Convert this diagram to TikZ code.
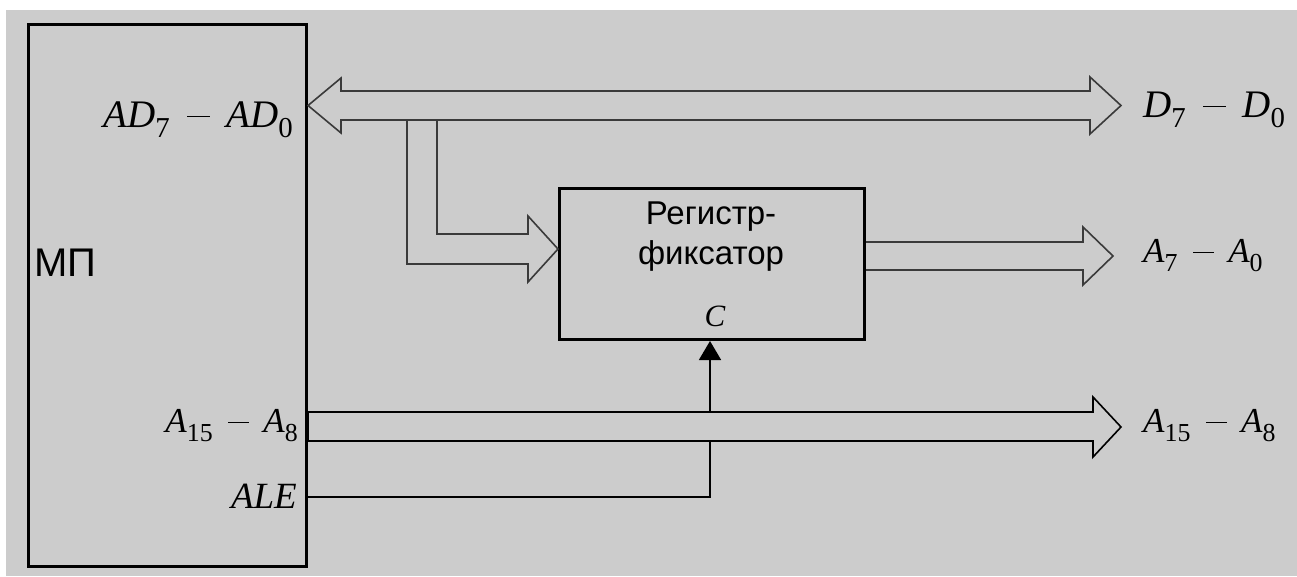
\documentclass[tikz,border=0pt]{standalone}
\usepackage{fontspec}
\usepackage{graphicx}
\setmainfont{Liberation Serif}
\newfontfamily\sansfnt{Liberation Sans}
\usetikzlibrary{arrows.meta}
\definecolor{bg}{HTML}{CCCCCC}
\definecolor{busline}{HTML}{3A3A3A}
\newcommand\sbx[1]{\raisebox{-0.27em}{\scalebox{0.74}{#1}}}
\newcommand\mns{\hspace{0.45em}\rule[0.25em]{0.58em}{0.04em}\hspace{0.42em}}
\tikzset{
  blockbox/.style={draw=black, line width=3pt, fill=bg, inner sep=0pt},
  bus/.style={draw=busline, line width=1.6pt, fill=bg, line join=miter},
  sig/.style={draw=black, line width=1.6pt},
  lblbig/.style={font=\fontsize{39}{42}\selectfont, inner sep=0pt},
  lblmid/.style={font=\fontsize{35}{38}\selectfont, inner sep=0pt},
  sanslbl/.style={font=\sansfnt\fontsize{33}{36}\selectfont, inner sep=0pt},
}
\begin{document}
\begin{tikzpicture}[x=1pt, y=-1pt]
\useasboundingbox (0,0) rectangle (1297,576);
\fill[white] (0,0) rectangle (1297,576);
\fill[bg] (6,10) rectangle (1297,576);

% microprocessor block
\node[blockbox, minimum width=278pt, minimum height=542pt, anchor=north west] (mp) at (27,23) {};
\node[font=\sansfnt\fontsize{40}{44}\selectfont, inner sep=0pt, anchor=west] (mplbl) at (34,263) {МП};

% register block
\node[blockbox, minimum width=305pt, minimum height=151pt, anchor=north west] (reg) at (558,187) {};
\node[sanslbl, anchor=base] (regt1) at (711,224) {Регистр-};
\node[sanslbl, anchor=base] (regt2) at (711,264) {фиксатор};
\node[font=\itshape\fontsize{31}{33}\selectfont, inner sep=0pt, anchor=base] (clk) at (715,326) {C};

% ALE line to C input (passes behind the A15-A8 bus)
\coordinate (aleS) at (mp.east |- 0,497);
\coordinate (aleC) at (710,497);
\draw[sig, -{Triangle[length=19pt, width=22pt]}] (aleS) -- (aleC) -- (aleC |- reg.south);

% top bidirectional bus AD7-AD0 / D7-D0
\draw[bus] (308,105.5) -- (341,78) -- (341,91) -- (1090,91) -- (1090,77) -- (1121,105.5)
  -- (1090,134) -- (1090,120) -- (437,120) -- (407,120) -- (341,120) -- (341,133) -- cycle;
% branch to register
\draw[bus] (407,121) -- (407,264) -- (528,264) -- (528,282) -- (reg.west |- 0,249) -- (528,216)
  -- (528,234) -- (437,234) -- (437,121);

% register output bus A7-A0
\draw[bus] (reg.east |- 0,242) -- (1083,242) -- (1083,227) -- (1113,256) -- (1083,285) -- (1083,270) -- (reg.east |- 0,270);

% A15-A8 bus
\draw[bus, draw=black] (mp.east |- 0,412) -- (1093,412) -- (1093,397) -- (1121,427) -- (1093,457) -- (1093,441) -- (mp.east |- 0,441) -- cycle;

% labels
\node[lblbig, anchor=base east] (lad) at (293,127) {\itshape AD\sbx{\upshape 7}\mns AD\sbx{\upshape 0}};
\node[lblbig, anchor=base west] (ld) at (1143,117) {\itshape D\sbx{\upshape 7}\mns D\sbx{\upshape 0}};
\node[lblmid, anchor=base west] (la70) at (1143,262) {\itshape A\sbx{\upshape 7}\mns A\sbx{\upshape 0}};
\node[lblmid, anchor=base west] (la158r) at (1143,432) {\itshape A\sbx{\upshape 15}\mns A\sbx{\upshape 8}};
\node[lblmid, anchor=base east] (la158l) at (298,432) {\itshape A\sbx{\upshape 15}\mns A\sbx{\upshape 8}};
\node[font=\itshape\fontsize{37}{40}\selectfont, inner sep=0pt, anchor=base east] (lale) at (297,508) {ALE};
\end{tikzpicture}
\end{document}
